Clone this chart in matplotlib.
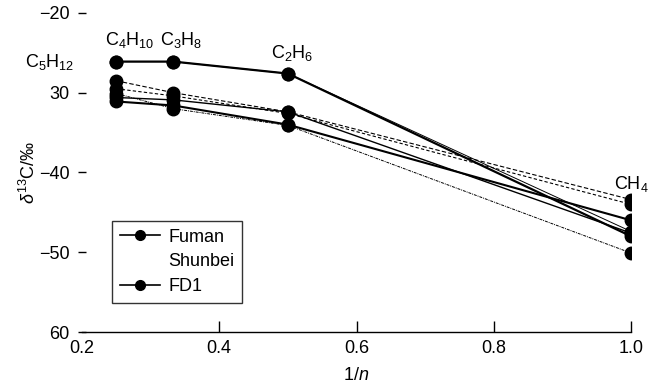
import matplotlib
matplotlib.use("Agg")
import matplotlib.pyplot as plt
from matplotlib.lines import Line2D

plt.rcParams['font.family'] = ['Liberation Sans', 'DejaVu Sans']
plt.rcParams['mathtext.fontset'] = 'custom'
plt.rcParams['mathtext.rm'] = 'Liberation Sans'
plt.rcParams['mathtext.it'] = 'Liberation Sans:italic'

# x = 1/n for C4H10, C3H8, C2H6, CH4
inv_n = [0.25, 1/3, 0.5, 1.0]

series_a = [-26.1, -26.1, -27.6, -48.0]
series_a2 = [-26.1, -26.1, -27.6, -47.4]
series_b = [-31.1, -31.6, -34.0, -46.0]
series_c = [-30.6, -30.9, -32.4, -47.6]
series_d = [-28.5, -30.0, -32.4, -43.4]
series_e = [-29.5, -30.4, -32.6, -44.0]
series_f = [-30.1, -32.0, -34.1, -50.1]

y_ticks = [-60, -50, -40, -30, -20]
y_tick_labels = ["60", "\u221250", "\u221240", "30", "\u221220"]
x_ticks = [0.2, 0.4, 0.6, 0.8, 1.0]
x_tick_labels = ["0.2", "0.4", "0.6", "0.8", "1.0"]

labels = [r"C$_5$H$_{12}$", r"C$_4$H$_{10}$", r"C$_3$H$_8$", r"C$_2$H$_6$", r"CH$_4$"]
label_x = [0.153, 0.27, 0.345, 0.506, 1.0]
label_y = [-26.2, -23.4, -23.4, -25.0, -41.4]

fig = plt.figure(figsize=(6.5, 3.92), dpi=100)
ax = fig.add_axes([0.126, 0.153, 0.845, 0.814])

ms = 9
ax.plot(inv_n, series_a, color='black', lw=1.6, marker='o', ms=ms)
ax.plot(inv_n, series_a2, color='black', lw=0.7, marker='o', ms=ms)
ax.plot(inv_n, series_b, color='black', lw=1.5, marker='o', ms=ms)
ax.plot(inv_n, series_c, color='black', lw=1.0, marker='o', ms=ms)
ax.plot(inv_n, series_d, color='black', lw=0.8, ls=(0, (4, 2)), marker='o', ms=ms)
ax.plot(inv_n, series_e, color='black', lw=0.8, ls=(0, (3, 2)), marker='o', ms=ms)
ax.plot(inv_n, series_f, color='black', lw=0.7, ls=(0, (3, 1, 1, 1)), marker='o', ms=ms)

for t, x, y in zip(labels, label_x, label_y):
    ax.text(x, y, t, ha='center', va='center', fontsize=13)

ax.set_xlim(0.2, 1.0)
ax.set_ylim(-60, -20)
ax.set_xticks(x_ticks)
ax.set_xticklabels(x_tick_labels)
ax.set_yticks(y_ticks)
ax.set_yticklabels(y_tick_labels)

for s in ['top', 'right', 'left']:
    ax.spines[s].set_visible(False)
ax.spines['bottom'].set_linewidth(1.0)
ax.tick_params(axis='x', direction='in', length=8, width=1, labelsize=13, pad=6)
ax.tick_params(axis='y', direction='inout', length=6, width=1, labelsize=13, pad=6)
ax.xaxis.get_major_ticks()[0].tick1line.set_visible(False)

ax.set_xlabel(r"1/$\mathit{n}$", fontsize=13, labelpad=7)
ax.set_ylabel(r"$\mathit{\delta}^{13}$C/‰", fontsize=13, labelpad=0)

handles = [
    Line2D([], [], color='black', lw=1.2, marker='o', ms=7),
    Line2D([], [], color='white', lw=0),
    Line2D([], [], color='black', lw=1.2, marker='o', ms=7),
]
leg = ax.legend(handles, ["Fuman", "Shunbei", "FD1"], loc='lower left',
                bbox_to_anchor=(0.055, 0.091), borderaxespad=0, fontsize=13,
                frameon=True, fancybox=False, edgecolor='black',
                handlelength=2.2, handletextpad=0.45, borderpad=0.45,
                labelspacing=0.42)
leg.get_frame().set_linewidth(1.0)

fig.savefig("out.png", dpi=100)
